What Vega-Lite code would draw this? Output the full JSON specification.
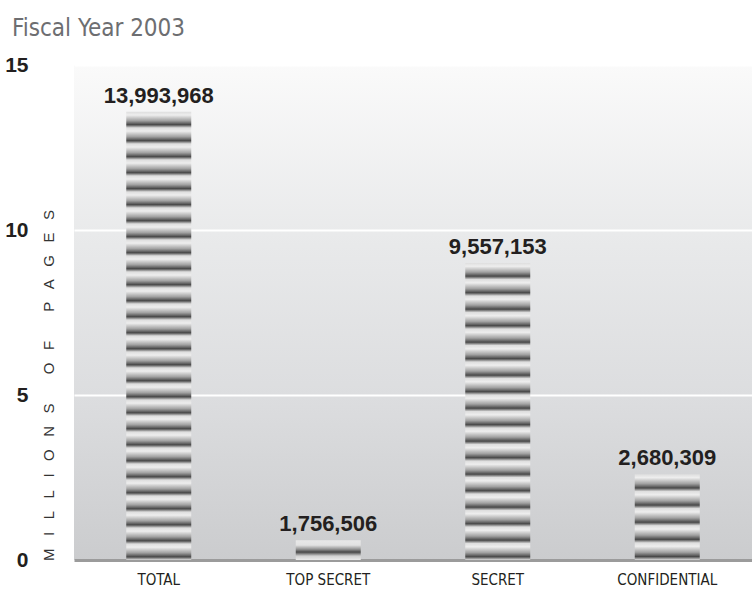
{
  "$schema": "https://vega.github.io/schema/vega-lite/v6.json",
  "width": 678,
  "height": 495,
  "autosize": {"type": "none"},
  "padding": {"left": 74, "top": 65, "right": 0, "bottom": 32},
  "background": "#ffffff",
  "view": {
    "stroke": null,
    "fill": {"gradient": "linear", "x1": 0, "y1": 0, "x2": 0, "y2": 1, "stops": [
      {"offset": 0, "color": "#fafafa"},
      {"offset": 0.34, "color": "#e9eaeb"},
      {"offset": 0.67, "color": "#dcdddf"},
      {"offset": 1, "color": "#cbccce"}
    ]}
  },
  "title": {
    "text": "Fiscal Year 2003",
    "anchor": "start",
    "frame": "group",
    "dx": -62,
    "dy": 28,
    "offset": 22,
    "baseline": "alphabetic",
    "font": "Liberation Sans Narrow, DejaVu Sans Condensed, Liberation Sans",
    "fontSize": 24,
    "fontWeight": "normal",
    "color": "#6d6e71"
  },
  "data": {
    "values": [
      {"category": "TOTAL", "millions": 13.58, "pages": 13993968},
      {"category": "TOP SECRET", "millions": 0.6, "pages": 1756506},
      {"category": "SECRET", "millions": 9.0, "pages": 9557153},
      {"category": "CONFIDENTIAL", "millions": 2.6, "pages": 2680309}
    ]
  },
  "encoding": {
    "x": {
      "field": "category",
      "type": "nominal",
      "sort": ["TOTAL", "TOP SECRET", "SECRET", "CONFIDENTIAL"],
      "scale": {"paddingInner": 0, "paddingOuter": 0},
      "axis": {
        "title": null,
        "labelAngle": 0,
        "ticks": false,
        "grid": false,
        "domainColor": "#9b9b9b",
        "domainWidth": 3,
        "labelFont": "Liberation Sans Narrow, DejaVu Sans Condensed, Liberation Sans",
        "labelFontSize": 15,
        "labelColor": "#231f20",
        "labelPadding": 12
      }
    },
    "y": {
      "field": "millions",
      "type": "quantitative",
      "scale": {"domain": [0, 15], "nice": false},
      "axis": {
        "values": [0, 5, 10, 15],
        "title": "M\u00a0\u00a0\u00a0I\u00a0\u00a0\u00a0L\u00a0\u00a0\u00a0L\u00a0\u00a0\u00a0I\u00a0\u00a0\u00a0O\u00a0\u00a0\u00a0N\u00a0\u00a0\u00a0S\u00a0\u00a0\u00a0\u00a0\u00a0\u00a0\u00a0O\u00a0\u00a0\u00a0F\u00a0\u00a0\u00a0\u00a0\u00a0\u00a0\u00a0P\u00a0\u00a0\u00a0A\u00a0\u00a0\u00a0G\u00a0\u00a0\u00a0E\u00a0\u00a0\u00a0S",
        "titleX": -26,
        "titleY": 320,
        "titleAngle": -90,
        "titleAlign": "center",
        "titleBaseline": "middle",
        "titleFont": "Liberation Sans",
        "titleFontSize": 15,
        "titleFontWeight": "normal",
        "titleColor": "#333333",
        "grid": true,
        "gridColor": "#ffffff",
        "gridWidth": 2,
        "domain": false,
        "ticks": false,
        "labelFont": "Liberation Sans",
        "labelFontSize": 21,
        "labelFontWeight": "bold",
        "labelColor": "#231f20",
        "labelPadding": 46
      }
    }
  },
  "layer": [
    {
      "transform": [{"filter": "datum.category === 'TOTAL'"}],
      "mark": {"type": "bar", "width": 65, "color": {"gradient": "linear", "x1": 0, "y1": 0, "x2": 0, "y2": 1, "stops": [
        {"offset": 0, "color": "#dedede"}, {"offset": 0.0071, "color": "#eeeeee"}, {"offset": 0.0196, "color": "#a2a2a2"}, {"offset": 0.0286, "color": "#484848"},
        {"offset": 0.0357, "color": "#dedede"}, {"offset": 0.0429, "color": "#eeeeee"}, {"offset": 0.0554, "color": "#a2a2a2"}, {"offset": 0.0643, "color": "#484848"},
        {"offset": 0.0714, "color": "#dedede"}, {"offset": 0.0786, "color": "#eeeeee"}, {"offset": 0.0911, "color": "#a2a2a2"}, {"offset": 0.1, "color": "#484848"},
        {"offset": 0.1071, "color": "#dedede"}, {"offset": 0.1143, "color": "#eeeeee"}, {"offset": 0.1268, "color": "#a2a2a2"}, {"offset": 0.1357, "color": "#484848"},
        {"offset": 0.1429, "color": "#dedede"}, {"offset": 0.15, "color": "#eeeeee"}, {"offset": 0.1625, "color": "#a2a2a2"}, {"offset": 0.1714, "color": "#484848"},
        {"offset": 0.1786, "color": "#dedede"}, {"offset": 0.1857, "color": "#eeeeee"}, {"offset": 0.1982, "color": "#a2a2a2"}, {"offset": 0.2071, "color": "#484848"},
        {"offset": 0.2143, "color": "#dedede"}, {"offset": 0.2214, "color": "#eeeeee"}, {"offset": 0.2339, "color": "#a2a2a2"}, {"offset": 0.2429, "color": "#484848"},
        {"offset": 0.25, "color": "#dedede"}, {"offset": 0.2571, "color": "#eeeeee"}, {"offset": 0.2696, "color": "#a2a2a2"}, {"offset": 0.2786, "color": "#484848"},
        {"offset": 0.2857, "color": "#dedede"}, {"offset": 0.2929, "color": "#eeeeee"}, {"offset": 0.3054, "color": "#a2a2a2"}, {"offset": 0.3143, "color": "#484848"},
        {"offset": 0.3214, "color": "#dedede"}, {"offset": 0.3286, "color": "#eeeeee"}, {"offset": 0.3411, "color": "#a2a2a2"}, {"offset": 0.35, "color": "#484848"},
        {"offset": 0.3571, "color": "#dedede"}, {"offset": 0.3643, "color": "#eeeeee"}, {"offset": 0.3768, "color": "#a2a2a2"}, {"offset": 0.3857, "color": "#484848"},
        {"offset": 0.3929, "color": "#dedede"}, {"offset": 0.4, "color": "#eeeeee"}, {"offset": 0.4125, "color": "#a2a2a2"}, {"offset": 0.4214, "color": "#484848"},
        {"offset": 0.4286, "color": "#dedede"}, {"offset": 0.4357, "color": "#eeeeee"}, {"offset": 0.4482, "color": "#a2a2a2"}, {"offset": 0.4571, "color": "#484848"},
        {"offset": 0.4643, "color": "#dedede"}, {"offset": 0.4714, "color": "#eeeeee"}, {"offset": 0.4839, "color": "#a2a2a2"}, {"offset": 0.4929, "color": "#484848"},
        {"offset": 0.5, "color": "#dedede"}, {"offset": 0.5071, "color": "#eeeeee"}, {"offset": 0.5196, "color": "#a2a2a2"}, {"offset": 0.5286, "color": "#484848"},
        {"offset": 0.5357, "color": "#dedede"}, {"offset": 0.5429, "color": "#eeeeee"}, {"offset": 0.5554, "color": "#a2a2a2"}, {"offset": 0.5643, "color": "#484848"},
        {"offset": 0.5714, "color": "#dedede"}, {"offset": 0.5786, "color": "#eeeeee"}, {"offset": 0.5911, "color": "#a2a2a2"}, {"offset": 0.6, "color": "#484848"},
        {"offset": 0.6071, "color": "#dedede"}, {"offset": 0.6143, "color": "#eeeeee"}, {"offset": 0.6268, "color": "#a2a2a2"}, {"offset": 0.6357, "color": "#484848"},
        {"offset": 0.6429, "color": "#dedede"}, {"offset": 0.65, "color": "#eeeeee"}, {"offset": 0.6625, "color": "#a2a2a2"}, {"offset": 0.6714, "color": "#484848"},
        {"offset": 0.6786, "color": "#dedede"}, {"offset": 0.6857, "color": "#eeeeee"}, {"offset": 0.6982, "color": "#a2a2a2"}, {"offset": 0.7071, "color": "#484848"},
        {"offset": 0.7143, "color": "#dedede"}, {"offset": 0.7214, "color": "#eeeeee"}, {"offset": 0.7339, "color": "#a2a2a2"}, {"offset": 0.7429, "color": "#484848"},
        {"offset": 0.75, "color": "#dedede"}, {"offset": 0.7571, "color": "#eeeeee"}, {"offset": 0.7696, "color": "#a2a2a2"}, {"offset": 0.7786, "color": "#484848"},
        {"offset": 0.7857, "color": "#dedede"}, {"offset": 0.7929, "color": "#eeeeee"}, {"offset": 0.8054, "color": "#a2a2a2"}, {"offset": 0.8143, "color": "#484848"},
        {"offset": 0.8214, "color": "#dedede"}, {"offset": 0.8286, "color": "#eeeeee"}, {"offset": 0.8411, "color": "#a2a2a2"}, {"offset": 0.85, "color": "#484848"},
        {"offset": 0.8571, "color": "#dedede"}, {"offset": 0.8643, "color": "#eeeeee"}, {"offset": 0.8768, "color": "#a2a2a2"}, {"offset": 0.8857, "color": "#484848"},
        {"offset": 0.8929, "color": "#dedede"}, {"offset": 0.9, "color": "#eeeeee"}, {"offset": 0.9125, "color": "#a2a2a2"}, {"offset": 0.9214, "color": "#484848"},
        {"offset": 0.9286, "color": "#dedede"}, {"offset": 0.9357, "color": "#eeeeee"}, {"offset": 0.9482, "color": "#a2a2a2"}, {"offset": 0.9571, "color": "#484848"},
        {"offset": 0.9643, "color": "#dedede"}, {"offset": 0.9714, "color": "#eeeeee"}, {"offset": 0.9839, "color": "#a2a2a2"}, {"offset": 0.9929, "color": "#484848"},
        {"offset": 1, "color": "#dedede"}
      ]}}
    },
    {
      "transform": [{"filter": "datum.category === 'TOP SECRET'"}],
      "mark": {"type": "bar", "width": 65, "color": {"gradient": "linear", "x1": 0, "y1": 0, "x2": 0, "y2": 1, "stops": [
        {"offset": 0, "color": "#e8e8e8"}, {"offset": 0.25, "color": "#e2e2e2"}, {"offset": 0.45, "color": "#959595"},
        {"offset": 0.6, "color": "#484848"}, {"offset": 0.8, "color": "#d2d2d2"}, {"offset": 1, "color": "#ececec"}
      ]}}
    },
    {
      "transform": [{"filter": "datum.category === 'SECRET'"}],
      "mark": {"type": "bar", "width": 65, "color": {"gradient": "linear", "x1": 0, "y1": 0, "x2": 0, "y2": 1, "stops": [
        {"offset": 0, "color": "#dedede"}, {"offset": 0.0111, "color": "#eeeeee"}, {"offset": 0.0306, "color": "#a2a2a2"}, {"offset": 0.0444, "color": "#484848"},
        {"offset": 0.0556, "color": "#dedede"}, {"offset": 0.0667, "color": "#eeeeee"}, {"offset": 0.0861, "color": "#a2a2a2"}, {"offset": 0.1, "color": "#484848"},
        {"offset": 0.1111, "color": "#dedede"}, {"offset": 0.1222, "color": "#eeeeee"}, {"offset": 0.1417, "color": "#a2a2a2"}, {"offset": 0.1556, "color": "#484848"},
        {"offset": 0.1667, "color": "#dedede"}, {"offset": 0.1778, "color": "#eeeeee"}, {"offset": 0.1972, "color": "#a2a2a2"}, {"offset": 0.2111, "color": "#484848"},
        {"offset": 0.2222, "color": "#dedede"}, {"offset": 0.2333, "color": "#eeeeee"}, {"offset": 0.2528, "color": "#a2a2a2"}, {"offset": 0.2667, "color": "#484848"},
        {"offset": 0.2778, "color": "#dedede"}, {"offset": 0.2889, "color": "#eeeeee"}, {"offset": 0.3083, "color": "#a2a2a2"}, {"offset": 0.3222, "color": "#484848"},
        {"offset": 0.3333, "color": "#dedede"}, {"offset": 0.3444, "color": "#eeeeee"}, {"offset": 0.3639, "color": "#a2a2a2"}, {"offset": 0.3778, "color": "#484848"},
        {"offset": 0.3889, "color": "#dedede"}, {"offset": 0.4, "color": "#eeeeee"}, {"offset": 0.4194, "color": "#a2a2a2"}, {"offset": 0.4333, "color": "#484848"},
        {"offset": 0.4444, "color": "#dedede"}, {"offset": 0.4556, "color": "#eeeeee"}, {"offset": 0.475, "color": "#a2a2a2"}, {"offset": 0.4889, "color": "#484848"},
        {"offset": 0.5, "color": "#dedede"}, {"offset": 0.5111, "color": "#eeeeee"}, {"offset": 0.5306, "color": "#a2a2a2"}, {"offset": 0.5444, "color": "#484848"},
        {"offset": 0.5556, "color": "#dedede"}, {"offset": 0.5667, "color": "#eeeeee"}, {"offset": 0.5861, "color": "#a2a2a2"}, {"offset": 0.6, "color": "#484848"},
        {"offset": 0.6111, "color": "#dedede"}, {"offset": 0.6222, "color": "#eeeeee"}, {"offset": 0.6417, "color": "#a2a2a2"}, {"offset": 0.6556, "color": "#484848"},
        {"offset": 0.6667, "color": "#dedede"}, {"offset": 0.6778, "color": "#eeeeee"}, {"offset": 0.6972, "color": "#a2a2a2"}, {"offset": 0.7111, "color": "#484848"},
        {"offset": 0.7222, "color": "#dedede"}, {"offset": 0.7333, "color": "#eeeeee"}, {"offset": 0.7528, "color": "#a2a2a2"}, {"offset": 0.7667, "color": "#484848"},
        {"offset": 0.7778, "color": "#dedede"}, {"offset": 0.7889, "color": "#eeeeee"}, {"offset": 0.8083, "color": "#a2a2a2"}, {"offset": 0.8222, "color": "#484848"},
        {"offset": 0.8333, "color": "#dedede"}, {"offset": 0.8444, "color": "#eeeeee"}, {"offset": 0.8639, "color": "#a2a2a2"}, {"offset": 0.8778, "color": "#484848"},
        {"offset": 0.8889, "color": "#dedede"}, {"offset": 0.9, "color": "#eeeeee"}, {"offset": 0.9194, "color": "#a2a2a2"}, {"offset": 0.9333, "color": "#484848"},
        {"offset": 0.9444, "color": "#dedede"}, {"offset": 0.9556, "color": "#eeeeee"}, {"offset": 0.975, "color": "#a2a2a2"}, {"offset": 0.9889, "color": "#484848"},
        {"offset": 1, "color": "#dedede"}
      ]}}
    },
    {
      "transform": [{"filter": "datum.category === 'CONFIDENTIAL'"}],
      "mark": {"type": "bar", "width": 65, "color": {"gradient": "linear", "x1": 0, "y1": 0, "x2": 0, "y2": 1, "stops": [
        {"offset": 0, "color": "#dedede"}, {"offset": 0.04, "color": "#eeeeee"}, {"offset": 0.11, "color": "#a2a2a2"}, {"offset": 0.16, "color": "#484848"},
        {"offset": 0.2, "color": "#dedede"}, {"offset": 0.24, "color": "#eeeeee"}, {"offset": 0.31, "color": "#a2a2a2"}, {"offset": 0.36, "color": "#484848"},
        {"offset": 0.4, "color": "#dedede"}, {"offset": 0.44, "color": "#eeeeee"}, {"offset": 0.51, "color": "#a2a2a2"}, {"offset": 0.56, "color": "#484848"},
        {"offset": 0.6, "color": "#dedede"}, {"offset": 0.64, "color": "#eeeeee"}, {"offset": 0.71, "color": "#a2a2a2"}, {"offset": 0.76, "color": "#484848"},
        {"offset": 0.8, "color": "#dedede"}, {"offset": 0.84, "color": "#eeeeee"}, {"offset": 0.91, "color": "#a2a2a2"}, {"offset": 0.96, "color": "#484848"},
        {"offset": 1, "color": "#dedede"}
      ]}}
    },
    {
      "mark": {
        "type": "text",
        "baseline": "alphabetic",
        "dy": -9,
        "font": "Liberation Sans",
        "fontSize": 22,
        "fontWeight": "bold",
        "color": "#231f20"
      },
      "encoding": {
        "text": {"field": "pages", "type": "quantitative", "format": ","}
      }
    }
  ]
}
